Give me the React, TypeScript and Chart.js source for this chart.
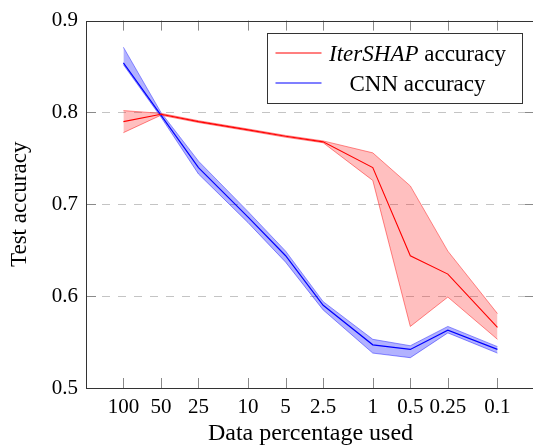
import React, { useEffect, useRef } from "react";
import { Chart, registerables } from "chart.js";

Chart.register(...registerables);

// ---- data ----
const xValues = [100, 50, 25, 10, 5, 2.5, 1, 0.5, 0.25, 0.1];
const xTickLabels = ["100", "50", "25", "10", "5", "2.5", "1", "0.5", "0.25", "0.1"];
const yTicks = [0.5, 0.6, 0.7, 0.8, 0.9];
const yTickLabels = ["0.5", "0.6", "0.7", "0.8", "0.9"];

const iterMean = [0.790, 0.798, 0.790, 0.781, 0.774, 0.768, 0.740, 0.644, 0.624, 0.566];
const iterUpper = [0.802, 0.799, 0.791, 0.782, 0.775, 0.769, 0.756, 0.720, 0.649, 0.581];
const iterLower = [0.778, 0.797, 0.789, 0.780, 0.773, 0.767, 0.726, 0.567, 0.599, 0.553];

const cnnMean = [0.854, 0.797, 0.740, 0.686, 0.644, 0.590, 0.547, 0.542, 0.563, 0.542];
const cnnUpper = [0.871, 0.800, 0.747, 0.692, 0.649, 0.594, 0.553, 0.546, 0.567, 0.545];
const cnnLower = [0.852, 0.795, 0.733, 0.680, 0.637, 0.585, 0.538, 0.533, 0.560, 0.538];

const legendItems = [
  { italic: "IterSHAP", rest: " accuracy", color: "#ff0000" },
  { italic: "", rest: "CNN accuracy", color: "#0000ff" },
];

const FONT = "'Liberation Serif', 'Times New Roman', serif";
const TICK_SIZE = 21;
const LEGEND_SIZE = 23;

const pts = (arr: number[]) => xValues.map((x, i) => ({ x, y: arr[i] }));

const framePlugin = {
  id: "frame",
  beforeDatasetsDraw(chart: any) {
    const { ctx, chartArea, scales } = chart;
    const { left, right } = chartArea;
    ctx.save();
    ctx.strokeStyle = "#c4c4c4";
    ctx.lineWidth = 1;
    ctx.setLineDash([8, 8]);
    yTicks.slice(1, -1).forEach((v) => {
      const py = Math.round(scales.y.getPixelForValue(v)) + 0.5;
      ctx.beginPath();
      ctx.moveTo(left, py);
      ctx.lineTo(right, py);
      ctx.stroke();
    });
    ctx.restore();
  },
  afterDatasetsDraw(chart: any) {
    const { ctx, chartArea, scales } = chart;
    const { left, right, top, bottom } = chartArea;
    const tl = 10;
    ctx.save();
    ctx.setLineDash([]);
    ctx.strokeStyle = "#8a8a8a";
    ctx.lineWidth = 1;
    xValues.forEach((v) => {
      const px = Math.round(scales.x.getPixelForValue(v)) + 0.5;
      ctx.beginPath();
      ctx.moveTo(px, bottom);
      ctx.lineTo(px, bottom - tl);
      ctx.moveTo(px, top);
      ctx.lineTo(px, top + tl);
      ctx.stroke();
    });
    yTicks.forEach((v) => {
      const py = Math.round(scales.y.getPixelForValue(v)) + 0.5;
      ctx.beginPath();
      ctx.moveTo(left, py);
      ctx.lineTo(left + tl, py);
      ctx.moveTo(right, py);
      ctx.lineTo(right - tl, py);
      ctx.stroke();
    });
    ctx.strokeStyle = "#333333";
    ctx.strokeRect(Math.round(left) + 0.5, Math.round(top) + 0.5, Math.round(right - left), Math.round(bottom - top));
    ctx.restore();
  },
  afterDraw(chart: any) {
    const { ctx, chartArea } = chart;
    const bw = 255;
    const bh = 70;
    const bx = 267.5;
    const by = Math.round(chartArea.top) + 12.5;
    ctx.save();
    ctx.setLineDash([]);
    ctx.fillStyle = "#ffffff";
    ctx.fillRect(bx, by, bw, bh);
    ctx.strokeStyle = "#333333";
    ctx.lineWidth = 1;
    ctx.strokeRect(bx, by, bw, bh);
    const cx = bx + 150;
    legendItems.forEach((it, i) => {
      const cy = by + 19.5 + i * 30;
      ctx.strokeStyle = it.color;
      ctx.lineWidth = 1.2;
      ctx.beginPath();
      ctx.moveTo(bx + 8, cy);
      ctx.lineTo(bx + 54, cy);
      ctx.stroke();
      ctx.fillStyle = "#000000";
      ctx.textBaseline = "alphabetic";
      ctx.textAlign = "left";
      const baseY = by + 27 + i * 30;
      ctx.font = `italic ${LEGEND_SIZE}px ${FONT}`;
      const w1 = it.italic ? ctx.measureText(it.italic).width : 0;
      ctx.font = `${LEGEND_SIZE}px ${FONT}`;
      const w2 = ctx.measureText(it.rest).width;
      let x0 = cx - (w1 + w2) / 2;
      if (it.italic) {
        ctx.font = `italic ${LEGEND_SIZE}px ${FONT}`;
        ctx.fillText(it.italic, x0, baseY);
        x0 += w1;
      }
      ctx.font = `${LEGEND_SIZE}px ${FONT}`;
      ctx.fillText(it.rest, x0, baseY);
    });
    ctx.restore();
  },
};

function ChartView() {
  const ref = useRef<HTMLCanvasElement | null>(null);
  useEffect(() => {
    if (!ref.current) return;
    const band = (arr: number[], color: string, fill: any, bg: string) => ({
      data: pts(arr),
      borderColor: color,
      borderWidth: 0.8,
      backgroundColor: bg,
      fill,
      pointRadius: 0,
      tension: 0,
    });
    const chart = new Chart(ref.current, {
      type: "line",
      data: {
        datasets: [
          { label: "IterSHAP accuracy", data: pts(iterMean), borderColor: "#ff0000", borderWidth: 1.1, pointRadius: 0, fill: false, tension: 0 },
          { label: "CNN accuracy", data: pts(cnnMean), borderColor: "#0000ff", borderWidth: 1.2, pointRadius: 0, fill: false, tension: 0 },
          band(iterUpper, "rgba(255,60,60,0.75)", "+1", "rgba(255,0,0,0.25)"),
          band(iterLower, "rgba(255,60,60,0.75)", false, "rgba(255,0,0,0.25)"),
          band(cnnUpper, "rgba(70,70,255,0.75)", "+1", "rgba(0,0,255,0.3)"),
          band(cnnLower, "rgba(70,70,255,0.75)", false, "rgba(0,0,255,0.3)"),
        ],
      },
      options: {
        responsive: false,
        devicePixelRatio: 1,
        animation: false,
        layout: { padding: { top: 17, right: 5, left: 0, bottom: 0 } },
        plugins: { legend: { display: false }, tooltip: { enabled: false } },
        scales: {
          x: {
            type: "logarithmic",
            reverse: true,
            bounds: "data",
            min: 0.05,
            max: 199.5,
            grid: { display: false, drawTicks: false, tickLength: 0 },
            border: { display: false },
            afterBuildTicks: (s: any) => {
              s.ticks = xValues.map((v) => ({ value: v }));
            },
            afterFit: (s: any) => {
              s.height = 72;
            },
            ticks: {
              autoSkip: false,
              maxRotation: 0,
              minRotation: 0,
              padding: 7,
              color: "#000",
              font: { family: FONT, size: TICK_SIZE },
              callback: (_v: any, i: number) => xTickLabels[i],
            },
            title: {
              display: true,
              text: "Data percentage used",
              color: "#000",
              font: { family: FONT, size: 24 },
              padding: { top: 0, bottom: 12 },
            },
          },
          y: {
            type: "linear",
            min: 0.5,
            max: 0.9,
            grid: { display: false, drawTicks: false, tickLength: 0 },
            border: { display: false },
            afterBuildTicks: (s: any) => {
              s.ticks = yTicks.map((v) => ({ value: v }));
            },
            afterFit: (s: any) => {
              s.width = 86;
            },
            ticks: {
              padding: 8,
              color: "#000",
              font: { family: FONT, size: TICK_SIZE },
              callback: (_v: any, i: number) => yTickLabels[i],
            },
            title: {
              display: true,
              text: "Test accuracy",
              color: "#000",
              font: { family: FONT, size: 23 },
              padding: { top: 6, bottom: 0 },
            },
          },
        },
      },
      plugins: [framePlugin],
    } as any);
    return () => chart.destroy();
  }, []);
  return (
    <canvas ref={ref} width={540} height={460} style={{ display: "block", width: 540, height: 460 }} />
  );
}

export default function App() {
  return (
    <div
      style={{
        position: "fixed",
        left: 0,
        top: 0,
        width: 533,
        height: 448,
        overflow: "hidden",
        background: "#ffffff",
      }}
    >
      <ChartView />
    </div>
  );
}
